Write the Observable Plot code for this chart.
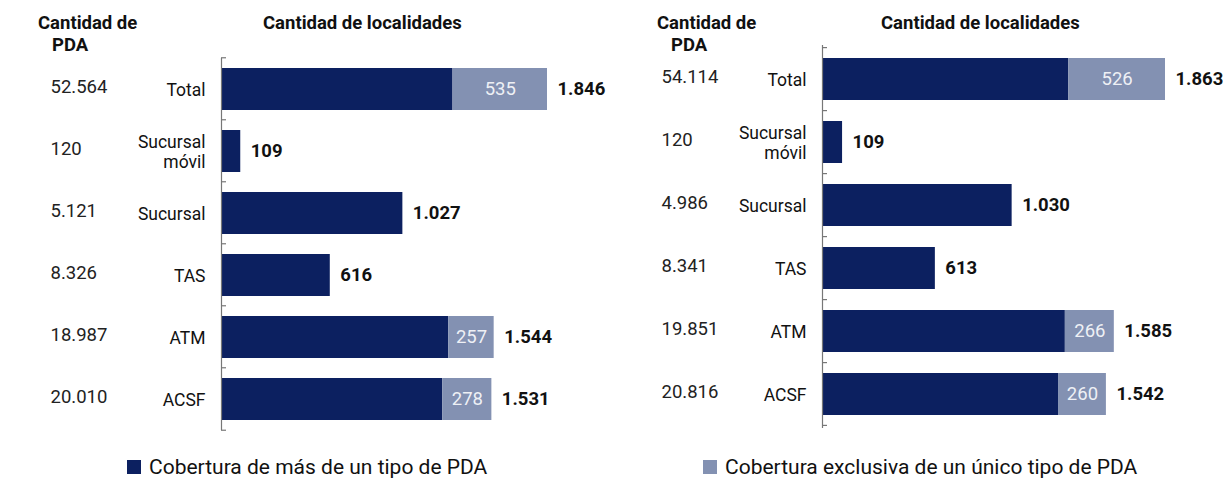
<!DOCTYPE html>
<html><head><meta charset="utf-8">
<script src="https://cdn.jsdelivr.net/npm/d3@7"></script>
<script src="https://cdn.jsdelivr.net/npm/@observablehq/plot@0.6"></script>
<style>
html,body{margin:0;padding:0;background:#fff;}
#root{position:relative;width:1223px;height:479px;font-family:Roboto,"Noto Sans",sans-serif;color:#111;}
.hdr{position:absolute;font-weight:bold;font-size:18.5px;line-height:22px;color:#111;white-space:nowrap;}
.leg{position:absolute;font-size:21px;color:#111;white-space:nowrap;display:flex;align-items:center;}
.sw{display:inline-block;width:14px;height:14px;margin-right:8px;}
.panel{position:absolute;top:0;}
</style></head><body>
<div id="root"></div>
<script>
const categories = ["Total", "Sucursal móvil", "Sucursal", "TAS", "ATM", "ACSF"];
// Panel 1
const pda1 = [52564, 120, 5121, 8326, 18987, 20010];
const total1 = [1846, 109, 1027, 616, 1544, 1531];
const exclusive1 = [535, 0, 0, 0, 257, 278];
// Panel 2
const pda2 = [54114, 120, 4986, 8341, 19851, 20816];
const total2 = [1863, 109, 1030, 613, 1585, 1542];
const exclusive2 = [526, 0, 0, 0, 266, 260];

const seriesNames = ["Cobertura de más de un tipo de PDA", "Cobertura exclusiva de un único tipo de PDA"];
const colors = ["#0c2060", "#8391b2"];

const loc = d3.formatLocale({decimal: ",", thousands: ".", grouping: [3], currency: ["$", ""]});
const fmt = loc.format(",");

const root = document.getElementById("root");

function panel(cfg) {
  const rows = categories.map((c, i) => ({cat: c, pda: cfg.pda[i], total: cfg.total[i], excl: cfg.excl[i], shared: cfg.total[i] - cfg.excl[i]}));
  const stack = [];
  rows.forEach(r => {
    stack.push({cat: r.cat, serie: seriesNames[0], v: r.shared});
    if (r.excl > 0) stack.push({cat: r.cat, serie: seriesNames[1], v: r.excl});
  });
  const plot = Plot.plot({
    width: cfg.width, height: 479,
    marginLeft: cfg.ml, marginRight: cfg.mr, marginTop: cfg.mt, marginBottom: cfg.mb,
    style: {fontFamily: "Roboto, 'Noto Sans', sans-serif", fontSize: "17.5px", color: "#111", background: "transparent"},
    x: {domain: [0, cfg.max], axis: null},
    y: {domain: categories, paddingInner: 0.33, paddingOuter: 0.165, label: null},
    color: {domain: seriesNames, range: colors},
    marks: [
      Plot.barX(stack, Plot.stackX({y: "cat", x: "v", fill: "serie", order: seriesNames})),
      Plot.text(rows.filter(r => r.excl > 0), {y: "cat", x: d => d.shared + d.excl / 2, text: d => fmt(d.excl), fill: "#eef0f5", fontSize: 18.5}),
      Plot.text(rows, {y: "cat", x: "total", text: d => fmt(d.total), textAnchor: "start", dx: 10, fontWeight: "bold", fontSize: 18.5, fill: "#111"}),
      Plot.text(rows, {y: "cat", frameAnchor: "left", text: d => fmt(d.pda), textAnchor: "start", dx: cfg.pdaDx, dy: -2, fontSize: 18.5, fill: "#222"}),
      Plot.axisY({tickSize: 0, tickPadding: 16, fontSize: 17.5, fill: "#111", label: null,
        tickFormat: d => d === "Sucursal móvil" ? "Sucursal\nmóvil" : d, lineHeight: 1.15}),
      Plot.ruleX([0], {stroke: "#777", strokeWidth: 1.2})
    ]
  });
  // band-boundary ticks drawn from the library's y scale
  const ys = plot.scale("y"), xs = plot.scale("x");
  const x0 = xs.apply(0);
  const bounds = categories.map(c => ys.apply(c) - ys.step * ys.paddingInner / 2);
  bounds.push(ys.apply(categories[categories.length - 1]) + ys.bandwidth + ys.step * ys.paddingInner / 2);
  const g = d3.select(plot).append("g").attr("stroke", "#777").attr("stroke-width", 1.2);
  bounds.forEach(b => g.append("line").attr("x1", x0).attr("x2", x0 + 5).attr("y1", b).attr("y2", b));
  const div = document.createElement("div");
  div.className = "panel";
  div.style.left = cfg.left + "px";
  div.appendChild(plot);
  root.appendChild(div);
}

panel({left: 0, width: 612, ml: 221, mr: 65, mt: 58, mb: 49, max: 1846, pda: pda1, total: total1, excl: exclusive1, pdaDx: -171});
panel({left: 612, width: 611, ml: 210, mr: 58, mt: 45, mb: 51, max: 1863, pda: pda2, total: total2, excl: exclusive2, pdaDx: -161});

function addDiv(cls, html, left, top, extra) {
  const d = document.createElement("div");
  d.className = cls; d.innerHTML = html;
  d.style.left = left + "px"; d.style.top = top + "px";
  if (extra) Object.assign(d.style, extra);
  root.appendChild(d);
  return d;
}
// headers
addDiv("hdr", "Cantidad de", 38, 12);
addDiv("hdr", "PDA", 52, 34);
addDiv("hdr", "Cantidad de localidades", 263, 12);
addDiv("hdr", "Cantidad de", 657, 12);
addDiv("hdr", "PDA", 671, 34);
addDiv("hdr", "Cantidad de localidades", 881, 12);
// legend
addDiv("leg", `<span class="sw" style="background:${colors[0]}"></span>${seriesNames[0]}`, 127, 455);
addDiv("leg", `<span class="sw" style="background:${colors[1]}"></span>${seriesNames[1]}`, 703, 455);
</script>
</body></html>
